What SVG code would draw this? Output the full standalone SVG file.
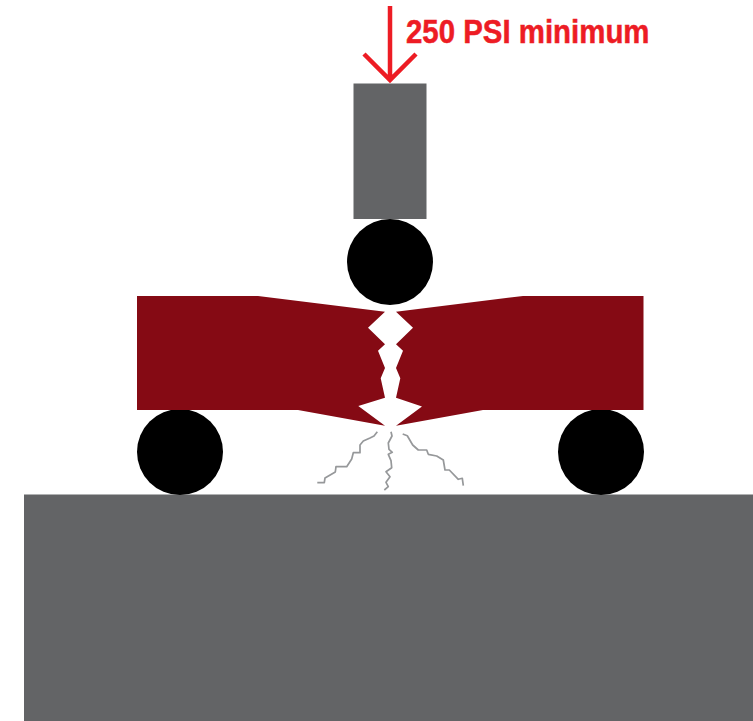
<svg xmlns="http://www.w3.org/2000/svg" width="753" height="721" viewBox="0 0 753 721">
<style>
.gray{fill:#636466}
.ball{fill:#000}
.beam{fill:#850a14}
.crack{fill:none;stroke:#96989a;stroke-width:1.7;stroke-linejoin:round}
.force{fill:none;stroke:#ed1c24;stroke-width:4.5}
.label{font-family:"Liberation Sans",Arial,sans-serif;font-weight:700;font-size:34px;fill:#ed1c24;stroke:#ed1c24;stroke-width:.5}
</style>
<rect width="753" height="721" fill="#fff"/>
<g id="base"><rect class="gray" x="24" y="494.500" width="729" height="226.500"/></g>
<g id="ram"><rect class="gray" x="353.500" y="83.500" width="73" height="135.500"/></g>
<g id="top-roller"><circle class="ball" cx="390" cy="262" r="43"/></g>
<g id="left-roller"><circle class="ball" cx="180" cy="452" r="43"/></g>
<g id="right-roller"><circle class="ball" cx="601" cy="452" r="43"/></g>
<g id="beam">
<path class="beam" d="M137 296H258L385 311.700 368 327.700 385 344.300 378 350.700 385 368 380.700 378.300 385 397.700 358.300 406 385 425.700 298 410H137Z"/>
<path class="beam" d="M643.500 296H523L396 311.700 413 327.700 396 344.300 403 350.700 396 368 400.300 378.300 396 397.700 422 406.500 396 425.700 483 410H643.500Z"/>
</g>
<g id="connectors">
<path class="crack" d="M377.300 431.700 374 436 370 438 363.300 441 360 445V452.700H353.300L351.700 459 346.700 466.700H336L335.300 472 325 478 324.300 482.700H317.300"/>
<path class="crack" d="M391 431.700 392 436 388.300 443 389 449.300 392.300 452.300 388.300 454.300 391 460.700 391.700 467.700 386 471.700 390 476.700 386 482.300 388.300 486.700 384.300 490"/>
<path class="crack" d="M402.700 434 407.300 435.700 412.700 445 418.300 450H426.700L428.300 454.300 436.700 456 443.300 460 445 470H449.300L458.300 479.300 462.300 478.300 463.300 485.700"/>
<path class="force" d="M390 6V80M364 54 390 80 416 54"/>
</g>
<g id="force-label"><text class="label" x="406" y="42.500" textLength="243.500" lengthAdjust="spacingAndGlyphs">250 PSI minimum</text></g>
</svg>
